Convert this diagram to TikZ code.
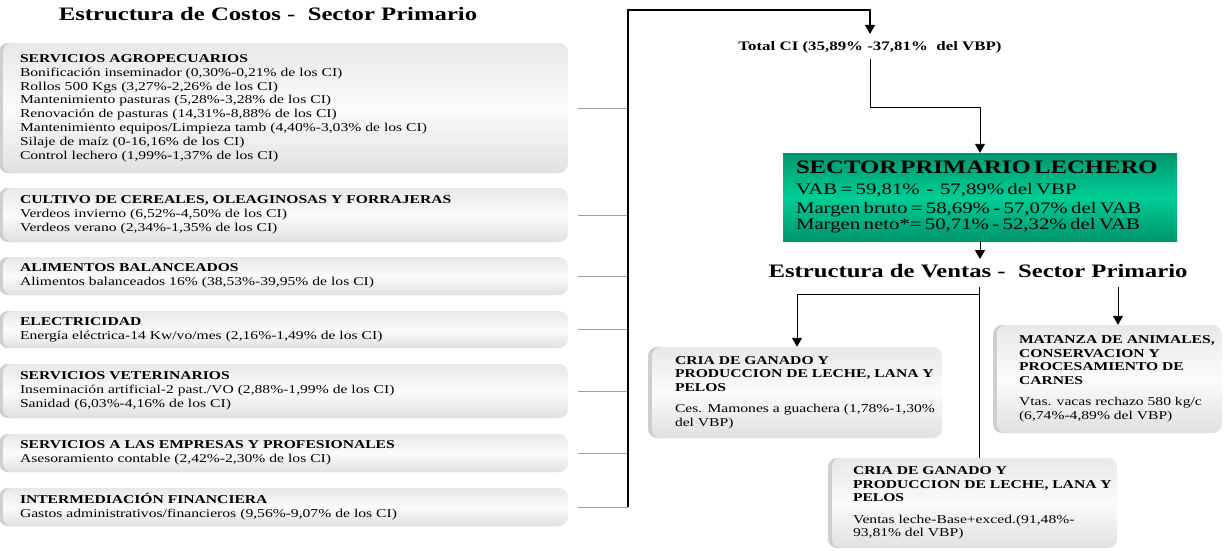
\documentclass[tikz,border=0pt]{standalone}
\usepackage{fontspec}
\setmainfont{Liberation Serif}[FakeStretch=1.3]
\usetikzlibrary{arrows.meta,positioning,calc,shadows}
\definecolor{greenDark}{RGB}{0,150,110}
\definecolor{greenLight}{RGB}{0,205,150}

\begin{document}
\begin{tikzpicture}[x=1pt, y=-1pt,
    costbox/.style={rounded corners=9pt, top color=gray!18, bottom color=gray!24, middle color=gray!3,
        general shadow={shadow xshift=-4pt, fill=gray!38}},
    leftbox/.style={costbox, minimum width=565pt, text width=531pt, inner sep=0pt,
        align=left, font=\fontsize{12}{13.8}\selectfont},
    salestext/.style={align=left, inner sep=0pt, font=\fontsize{12}{13.5}\selectfont},
    bigtitle/.style={font=\bfseries\fontsize{19}{22}\selectfont, inner sep=0pt},
    greenbox/.style={top color=greenDark, bottom color=greenDark, middle color=greenLight,
        minimum width=394pt, minimum height=88pt, text width=368pt, inner sep=0pt, align=left},
    busline/.style={line width=1.4pt},
    flowline/.style={line width=0.9pt},
    stubline/.style={gray!75, line width=1pt},
    downarrow/.style={-{Triangle[width=10pt,length=9pt]}}
]
    \useasboundingbox (0,0) rectangle (1225,550);

    % 1. Titulos
    \node[bigtitle] (costos) at (268,14) {Estructura de Costos - \ Sector Primario};
    \node[bigtitle] (ventas) at (978,271) {Estructura de Ventas - \ Sector Primario};

    % 2. Cajas de costos (consumo intermedio)
    \node[leftbox, minimum height=130pt] (srvA) at (285.5,108) {\textbf{SERVICIOS AGROPECUARIOS}\\
        Bonificación inseminador (0,30\%-0,21\% de los CI)\\
        Rollos 500 Kgs (3,27\%-2,26\% de los CI)\\
        Mantenimiento pasturas (5,28\%-3,28\% de los CI)\\
        Renovación de pasturas (14,31\%-8,88\% de los CI)\\
        Mantenimiento equipos/Limpieza tamb (4,40\%-3,03\% de los CI)\\
        Silaje de maíz (0-16,16\% de los CI)\\
        Control lechero (1,99\%-1,37\% de los CI)};
    \node[leftbox, minimum height=54pt] (srvB) at (285.5,215) {\textbf{CULTIVO DE CEREALES, OLEAGINOSAS Y FORRAJERAS}\\
        Verdeos invierno (6,52\%-4,50\% de los CI)\\
        Verdeos verano (2,34\%-1,35\% de los CI)};
    \node[leftbox, minimum height=38pt] (srvC) at (285.5,276) {\textbf{ALIMENTOS BALANCEADOS}\\
        Alimentos balanceados 16\% (38,53\%-39,95\% de los CI)};
    \node[leftbox, minimum height=37pt] (srvD) at (285.5,329.5) {\textbf{ELECTRICIDAD}\\
        Energía eléctrica-14 Kw/vo/mes (2,16\%-1,49\% de los CI)};
    \node[leftbox, minimum height=54pt] (srvE) at (285.5,391) {\textbf{SERVICIOS VETERINARIOS}\\
        Inseminación artificial-2 past./VO (2,88\%-1,99\% de los CI)\\
        Sanidad (6,03\%-4,16\% de los CI)};
    \node[leftbox, minimum height=38pt] (srvF) at (285.5,453) {\textbf{SERVICIOS A LAS EMPRESAS Y PROFESIONALES}\\
        Asesoramiento contable (2,42\%-2,30\% de los CI)};
    \node[leftbox, minimum height=38pt] (srvG) at (285.5,507) {\textbf{INTERMEDIACIÓN FINANCIERA}\\
        Gastos administrativos/financieros (9,56\%-9,07\% de los CI)};

    % 3. Total CI y sector lechero
    \node[font=\bfseries\fontsize{13}{15}\selectfont, inner sep=0pt] (totalCI) at (870,47)
        {Total CI (35,89\% -37,81\% \ del VBP)};
    \node[greenbox] (lechero) at (980,197) {{\bfseries\fontsize{19}{21}\selectfont SECTOR PRIMARIO LECHERO}\\[1pt]
        \fontsize{16}{19.5}\selectfont
        VAB = 59,81\% \ - \ 57,89\% del VBP\\
        Margen bruto = 58,69\% - 57,07\% del VAB\\
        Margen neto*= 50,71\% - 52,32\% del VAB};

    % 4. Cajas de ventas
    \node[costbox, minimum width=290pt, minimum height=91pt] (criaA) at (797,392.5) {};
    \node[salestext, right=23pt of criaA.west] (criaAtext) {\textbf{CRIA DE GANADO Y}\\
        \textbf{PRODUCCION DE LECHE, LANA Y}\\
        \textbf{PELOS}\\[8pt]
        Ces. Mamones a guachera (1,78\%-1,30\%\\
        del VBP)};
    \node[costbox, minimum width=225pt, minimum height=108pt] (matanza) at (1109.5,379) {};
    \node[salestext, right=22pt of matanza.west] (matanzaText) {\textbf{MATANZA DE ANIMALES,}\\
        \textbf{CONSERVACION Y}\\
        \textbf{PROCESAMIENTO DE}\\
        \textbf{CARNES}\\[8pt]
        Vtas. vacas rechazo 580 kg/c\\
        (6,74\%-4,89\% del VBP)};
    \node[costbox, minimum width=285pt, minimum height=90pt] (criaB) at (974.5,503) {};
    \node[salestext, right=21pt of criaB.west] (criaBtext) {\textbf{CRIA DE GANADO Y}\\
        \textbf{PRODUCCION DE LECHE, LANA Y}\\
        \textbf{PELOS}\\[8pt]
        Ventas leche-Base+exced.(91,48\%-\\
        93,81\% del VBP)};

    % 5. Conectores
    \coordinate (busTop) at (628,10);
    \coordinate (ciTurn) at (870,107);
    \coordinate (ventasFork) at (979,287);
    \coordinate (ventasMid) at (979,294);
    \coordinate (ventasRight) at (1118,287);

    \foreach \b in {srvA,srvB,srvC,srvD,srvE,srvF,srvG}
        \draw[stubline] ([xshift=10pt]\b.east) -- (\b.east -| busTop);
    \draw[busline, downarrow, shorten >=7pt] (srvG.east -| busTop) -- (busTop) -| (totalCI.north);
    \draw[flowline, downarrow] ([yshift=-6pt]totalCI.south) -- (ciTurn) -| (lechero.north);
    \draw[flowline, downarrow, shorten >=5pt] (lechero.south) -- (ventas.north -| lechero.south);
    \draw[flowline] (ventasFork) -- (ventasFork |- criaB.north);
    \draw[flowline, downarrow] (ventasMid) -| (criaA.north);
    \draw[flowline, downarrow] (ventasRight) -- (ventasRight |- matanza.north);

\end{tikzpicture}
\end{document}
